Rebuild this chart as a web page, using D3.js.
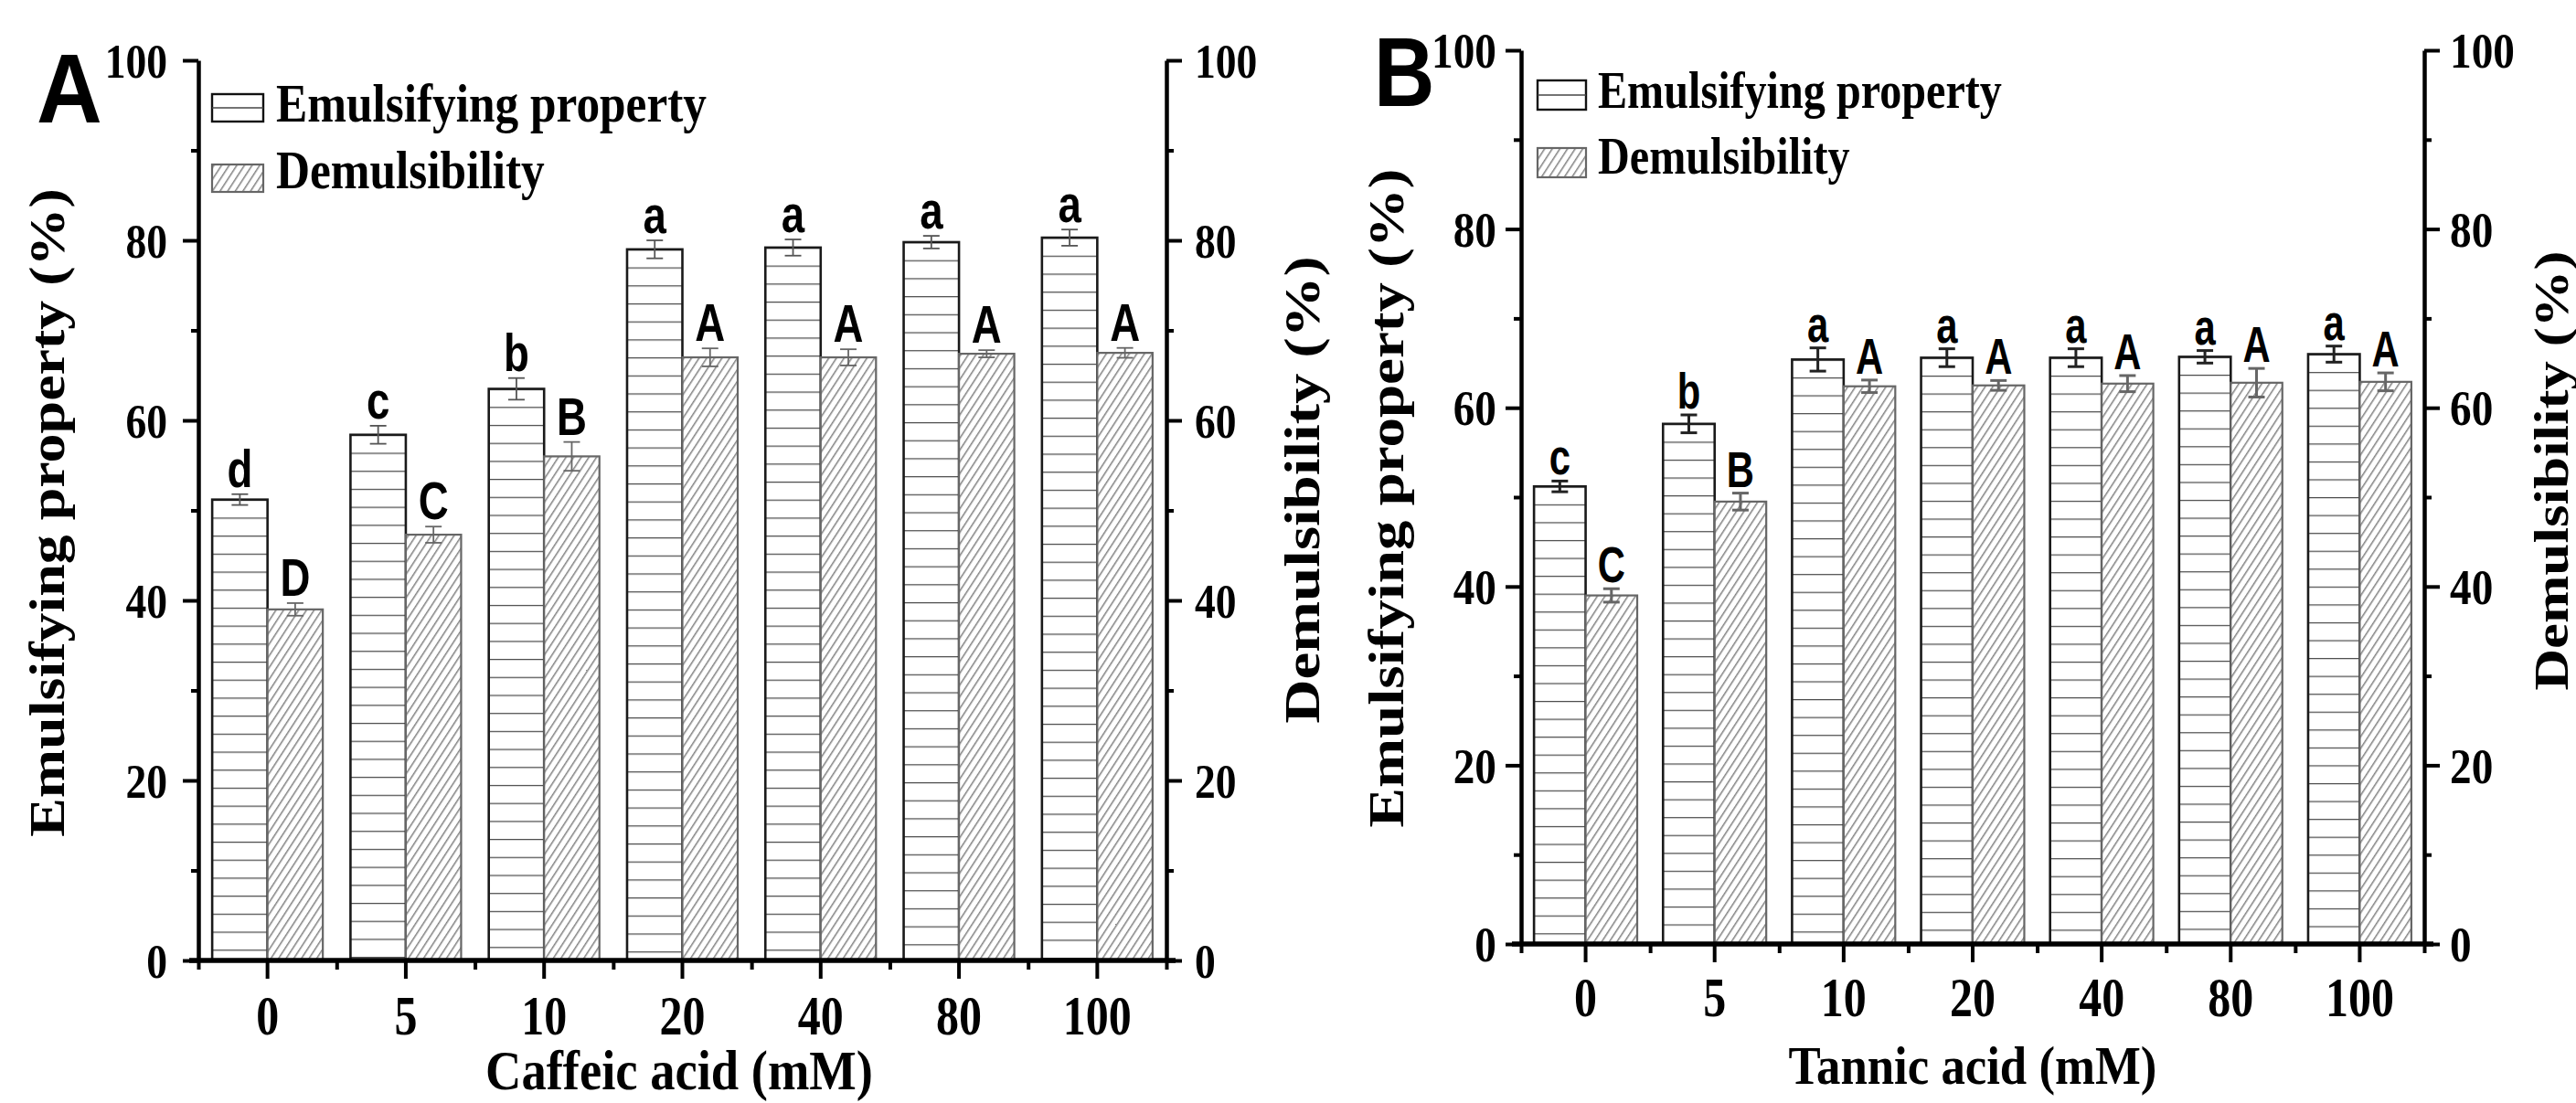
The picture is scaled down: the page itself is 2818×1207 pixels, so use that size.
<!DOCTYPE html>
<html>
<head>
<meta charset="utf-8">
<script src="https://cdn.jsdelivr.net/npm/d3@7"></script>
<style>
html, body { margin: 0; padding: 0; background: #fff; }
svg { display: block; }
</style>
</head>
<body>
<svg id="chart" width="2818" height="1207"></svg>
<script>
// ---------------- DATA ----------------
const categories = ["0", "5", "10", "20", "40", "80", "100"];
const yTickValues = [0, 20, 40, 60, 80, 100];
const yMinorValues = [10, 30, 50, 70, 90];
const seriesNames = ["Emulsifying property", "Demulsibility"];

// Panel A - Caffeic acid
const emulsA = [51.2, 58.4, 63.5, 79.0, 79.2, 79.8, 80.3];
const emulsErrA = [0.6, 1.0, 1.2, 1.0, 0.9, 0.7, 0.9];
const demulsA = [39.0, 47.3, 56.0, 67.0, 67.0, 67.4, 67.5];
const demulsErrA = [0.7, 0.9, 1.6, 1.0, 0.9, 0.4, 0.55];
const emulsLettersA = ["d", "c", "b", "a", "a", "a", "a"];
const demulsLettersA = ["D", "C", "B", "A", "A", "A", "A"];

// Panel B - Tannic acid
const emulsB = [51.2, 58.2, 65.4, 65.6, 65.6, 65.7, 66.0];
const emulsErrB = [0.6, 1.0, 1.3, 1.0, 1.0, 0.7, 0.9];
const demulsB = [39.0, 49.5, 62.4, 62.5, 62.7, 62.8, 62.9];
const demulsErrB = [0.75, 0.95, 0.7, 0.55, 0.9, 1.6, 1.0];
const emulsLettersB = ["c", "b", "a", "a", "a", "a", "a"];
const demulsLettersB = ["C", "B", "A", "A", "A", "A", "A"];

// ---------------- LAYOUT ----------------
const SERIF = "'Liberation Serif', 'Times New Roman', serif";
const SANS = "'Liberation Sans', Arial, sans-serif";

const panels = [
  {
    id: "A", xTitle: "Caffeic acid (mM)",
    emuls: emulsA, emulsErr: emulsErrA, demuls: demulsA, demulsErr: demulsErrA,
    emulsLetters: emulsLettersA, demulsLetters: demulsLettersA,
    L: {
      left: 217, right: 1276, top: 66, bottom: 1051,
      tag: { x: 40, y: 134, size: 108, sx: 0.92 },
      legend: { x: 232, y1: 103, y2: 180, w: 56, h: 30, tx: 302, b1: 133, b2: 206, size: 59, sx: 0.87 },
      yTitleL: { x: 70, cy: 561, size: 64, sx: 0.85 },
      yTitleR: { x: 1443, cy: 536, size: 67, sx: 0.82 },
      xTick: { baseline: 1132, size: 61, sx: 0.82 },
      xTitle: { cx: 743, y: 1192, size: 62, sx: 0.88 },
      yTick: { size: 53, sx: 0.86, gapL: 34, gapR: 31 },
      letters: { size: 57, sx: 0.8, gap: 8 },
      errStyle: { e: { stroke: "#555", w: 1.8 }, d: { stroke: "#666", w: 1.8 } }
    }
  },
  {
    id: "B", xTitle: "Tannic acid (mM)",
    emuls: emulsB, emulsErr: emulsErrB, demuls: demulsB, demulsErr: demulsErrB,
    emulsLetters: emulsLettersB, demulsLetters: demulsLettersB,
    L: {
      left: 1664, right: 2652, top: 55, bottom: 1033,
      tag: { x: 1503, y: 116, size: 107, sx: 0.86 },
      legend: { x: 1682, y1: 88, y2: 162, w: 53, h: 32, tx: 1748, b1: 118, b2: 190, size: 56, sx: 0.86 },
      yTitleL: { x: 1535, cy: 545, size: 65, sx: 0.83 },
      yTitleR: { x: 2809, cy: 515, size: 63, sx: 0.85 },
      xTick: { baseline: 1112, size: 61, sx: 0.82 },
      xTitle: { cx: 2158, y: 1186, size: 60, sx: 0.88 },
      yTick: { size: 55, sx: 0.86, gapL: 27, gapR: 28 },
      letters: { size: 55, sx: 0.76, gap: 7 },
      errStyle: { e: { stroke: "#222", w: 3 }, d: { stroke: "#666", w: 3 } }
    }
  }
];

const svg = d3.select("#chart");
svg.append("rect").attr("width", 2818).attr("height", 1207).attr("fill", "#fff");
const defs = svg.append("defs");

// diagonal hatch
const hatch = defs.append("pattern")
  .attr("id", "hatch")
  .attr("patternUnits", "userSpaceOnUse")
  .attr("width", 7).attr("height", 20)
  .attr("patternTransform", "rotate(33)");
hatch.append("rect").attr("width", 7).attr("height", 20).attr("fill", "#fff");
hatch.append("line").attr("x1", 0.8).attr("y1", -2).attr("x2", 0.8).attr("y2", 22)
  .attr("stroke", "#6e6e6e").attr("stroke-width", 1.3);

function sText(g, x, y, str, o) {
  return g.append("text")
    .attr("transform", `translate(${x},${y}) scale(${o.sx || 1},1)` + (o.rotate ? ` rotate(${o.rotate})` : ""))
    .attr("font-family", o.family || SERIF)
    .attr("font-weight", o.weight || "bold")
    .attr("font-size", o.size)
    .attr("text-anchor", o.anchor || "start")
    .attr("fill", "#000")
    .text(str);
}

panels.forEach((p) => {
  const L = p.L;
  const g = svg.append("g").attr("class", "panel-" + p.id);

  const x = d3.scaleBand().domain(categories).range([L.left, L.right]).paddingInner(0).paddingOuter(0);
  const edge = d3.scaleLinear().domain([0, categories.length]).range([L.left, L.right]);
  const y = d3.scaleLinear().domain([0, 100]).range([L.bottom, L.top]);
  const bw = x.bandwidth() * 0.4;
  const unit2 = y(0) - y(2); // stripe spacing = 2 data units

  // ---- bars: emulsifying (horizontal stripes) ----
  p.emuls.forEach((v, i) => {
    const x0 = x(categories[i]) + x.bandwidth() / 2 - bw;
    const top = y(v);
    const pid = `hl-${p.id}-${i}`;
    const pat = defs.append("pattern").attr("id", pid)
      .attr("patternUnits", "userSpaceOnUse")
      .attr("width", 4000).attr("height", unit2)
      .attr("patternTransform", `translate(0,${top})`);
    pat.append("rect").attr("width", 4000).attr("height", unit2).attr("fill", "#fff");
    pat.append("line").attr("x1", 0).attr("x2", 4000).attr("y1", 0.5).attr("y2", 0.5)
      .attr("stroke", "#4a4a4a").attr("stroke-width", 1.6);
    g.append("rect").attr("x", x0).attr("y", top).attr("width", bw).attr("height", y(0) - top)
      .attr("fill", `url(#${pid})`).attr("stroke", "#1a1a1a").attr("stroke-width", 2.6);
  });
  // ---- bars: demulsibility (hatch) ----
  p.demuls.forEach((v, i) => {
    const x0 = x(categories[i]) + x.bandwidth() / 2;
    const top = y(v);
    g.append("rect").attr("x", x0).attr("y", top).attr("width", bw).attr("height", y(0) - top)
      .attr("fill", "url(#hatch)").attr("stroke", "#666").attr("stroke-width", 2.2);
  });

  // ---- error bars + letters ----
  function errBar(cx, v, e, st) {
    const cap = 9;
    g.append("line").attr("x1", cx).attr("x2", cx).attr("y1", y(v + e)).attr("y2", y(v - e))
      .attr("stroke", st.stroke).attr("stroke-width", st.w);
    [v + e, v - e].forEach(w => {
      g.append("line").attr("x1", cx - cap).attr("x2", cx + cap).attr("y1", y(w)).attr("y2", y(w))
        .attr("stroke", st.stroke).attr("stroke-width", st.w);
    });
  }
  categories.forEach((c, i) => {
    const cE = x(c) + x.bandwidth() / 2 - bw / 2;
    const cD = x(c) + x.bandwidth() / 2 + bw / 2;
    errBar(cE, p.emuls[i], p.emulsErr[i], L.errStyle.e);
    errBar(cD, p.demuls[i], p.demulsErr[i], L.errStyle.d);
    sText(g, cE, y(p.emuls[i] + p.emulsErr[i]) - L.letters.gap, p.emulsLetters[i],
      { size: L.letters.size, sx: L.letters.sx, anchor: "middle", family: SANS });
    sText(g, cD, y(p.demuls[i] + p.demulsErr[i]) - L.letters.gap, p.demulsLetters[i],
      { size: L.letters.size, sx: L.letters.sx, anchor: "middle", family: SANS });
  });

  // ---- axes ----
  const axStyle = sel => {
    sel.selectAll("path.domain").attr("stroke", "#000").attr("stroke-width", 4.5);
    sel.selectAll(".tick line").attr("stroke", "#000").attr("stroke-width", 4);
  };

  // left
  const gl = g.append("g").attr("transform", `translate(${L.left},0)`)
    .call(d3.axisLeft(y).tickValues(yTickValues).tickSize(17).tickSizeOuter(0).tickFormat(d3.format("d")));
  gl.call(axStyle);
  gl.selectAll(".tick text")
    .attr("font-family", SERIF).attr("font-weight", "bold").attr("font-size", L.yTick.size).attr("fill", "#000")
    .attr("x", -L.yTick.gapL / L.yTick.sx).attr("dy", "0.34em")
    .attr("transform", `scale(${L.yTick.sx},1)`);
  g.append("g").attr("transform", `translate(${L.left},0)`)
    .call(d3.axisLeft(y).tickValues(yMinorValues).tickSize(8).tickSizeOuter(0).tickFormat(""))
    .call(axStyle).select("path.domain").remove();

  // right
  const gr = g.append("g").attr("transform", `translate(${L.right},0)`)
    .call(d3.axisRight(y).tickValues(yTickValues).tickSize(17).tickSizeOuter(0).tickFormat(d3.format("d")));
  gr.call(axStyle);
  gr.selectAll(".tick text")
    .attr("font-family", SERIF).attr("font-weight", "bold").attr("font-size", L.yTick.size).attr("fill", "#000")
    .attr("x", L.yTick.gapR / L.yTick.sx).attr("dy", "0.34em")
    .attr("transform", `scale(${L.yTick.sx},1)`);
  g.append("g").attr("transform", `translate(${L.right},0)`)
    .call(d3.axisRight(y).tickValues(yMinorValues).tickSize(8).tickSizeOuter(0).tickFormat(""))
    .call(axStyle).select("path.domain").remove();

  // bottom
  const gb = g.append("g").attr("transform", `translate(0,${L.bottom})`)
    .call(d3.axisBottom(x).tickSize(20).tickSizeOuter(0));
  gb.call(axStyle);
  gb.select("path.domain").attr("stroke-width", 5.5).attr("d", `M${L.left - 10},0H${L.right + 10}`);
  gb.selectAll(".tick text")
    .attr("font-family", SERIF).attr("font-weight", "bold").attr("font-size", L.xTick.size).attr("fill", "#000")
    .attr("y", L.xTick.baseline - L.bottom).attr("dy", 0)
    .attr("transform", `scale(${L.xTick.sx},1)`);
  g.append("g").attr("transform", `translate(0,${L.bottom})`)
    .call(d3.axisBottom(edge).tickValues(d3.range(categories.length + 1)).tickSize(10).tickSizeOuter(0).tickFormat(""))
    .call(axStyle).select("path.domain").remove();

  // ---- titles ----
  sText(g, L.xTitle.cx, L.xTitle.y, p.xTitle, { size: L.xTitle.size, sx: L.xTitle.sx, anchor: "middle" });
  sText(g, L.yTitleL.x, L.yTitleL.cy, "Emulsifying property (%)",
    { size: L.yTitleL.size, sx: L.yTitleL.sx, anchor: "middle", rotate: -90 });
  sText(g, L.yTitleR.x, L.yTitleR.cy, "Demulsibility (%)",
    { size: L.yTitleR.size, sx: L.yTitleR.sx, anchor: "middle", rotate: -90 });
  sText(g, L.tag.x, L.tag.y, p.id, { size: L.tag.size, sx: L.tag.sx, family: SANS });

  // ---- legend ----
  const lg = L.legend;
  g.append("rect").attr("x", lg.x).attr("y", lg.y1).attr("width", lg.w).attr("height", lg.h)
    .attr("fill", "#fff").attr("stroke", "#111").attr("stroke-width", 2.4);
  g.append("line").attr("x1", lg.x).attr("x2", lg.x + lg.w).attr("y1", lg.y1 + lg.h / 2).attr("y2", lg.y1 + lg.h / 2)
    .attr("stroke", "#444").attr("stroke-width", 1.6);
  g.append("rect").attr("x", lg.x).attr("y", lg.y2).attr("width", lg.w).attr("height", lg.h)
    .attr("fill", "url(#hatch)").attr("stroke", "#666").attr("stroke-width", 2.2);
  sText(g, lg.tx, lg.b1, seriesNames[0], { size: lg.size, sx: lg.sx });
  sText(g, lg.tx, lg.b2, seriesNames[1], { size: lg.size, sx: lg.sx });
});
</script>
</body>
</html>
